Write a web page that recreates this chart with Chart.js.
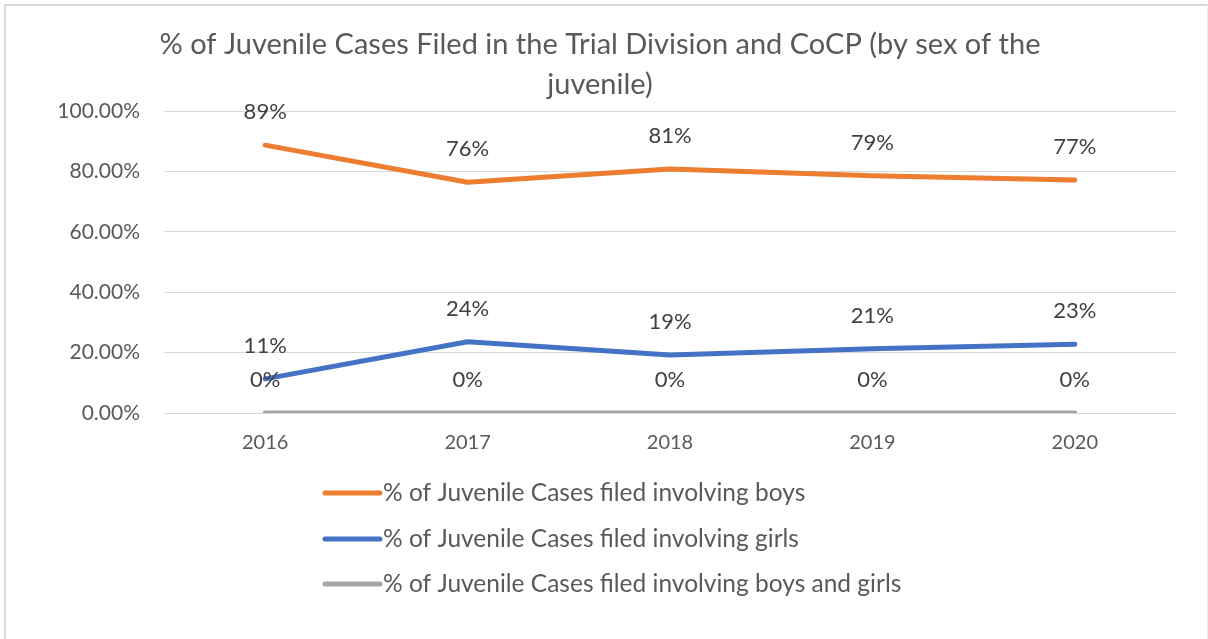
<!DOCTYPE html>
<html>
<head>
<meta charset="utf-8">
<script src="https://cdn.jsdelivr.net/npm/chart.js@4"></script>
<style>
  html, body { margin: 0; padding: 0; background: #fff; }
  #wrap { position: relative; width: 1208px; height: 639px; }
  #frame { position: absolute; left: 4px; top: 4px; width: 1201px; height: 640px;
           border-left: 2px solid #d9d9d9; border-top: 2px solid #d9d9d9; border-right: 1px solid #eeeeee; }
  canvas { position: absolute; left: 0; top: 0; }
</style>
</head>
<body>
<div id="wrap">
  <div id="frame"></div>
  <canvas id="myChart" width="1208" height="639"></canvas>
</div>
<script>
// chart values (percent)
const years = ['2016', '2017', '2018', '2019', '2020'];
const boys = [88.7, 76.4, 80.8, 78.6, 77.2];
const girls = [11.3, 23.6, 19.2, 21.3, 22.8];
const boysAndGirls = [0, 0, 0, 0, 0];
const seriesNames = [
    '% of Juvenile Cases filed involving boys',
    '% of Juvenile Cases filed involving girls',
    '% of Juvenile Cases filed involving boys and girls'
];
const titleLines = ['% of Juvenile Cases Filed in the Trial Division and CoCP (by sex of the', 'juvenile)'];

const FONT = 'Lato, "Open Sans", sans-serif';
const TEXT = '#595959';

// data labels above each point
const pointLabels = {
    id: 'pointLabels',
    afterDatasetsDraw(chart) {
        const ctx = chart.ctx;
        ctx.save();
        ctx.font = '22px ' + FONT;
        ctx.fillStyle = '#404040';
        ctx.textAlign = 'center';
        ctx.textBaseline = 'middle';
        chart.data.datasets.forEach((ds, i) => {
            chart.getDatasetMeta(i).data.forEach((pt, j) => {
                ctx.fillText(Math.round(ds.data[j]) + '%', pt.x, pt.y - 33);
            });
        });
        ctx.restore();
    }
};

// vertical legend under the plot
const sideLegend = {
    id: 'sideLegend',
    afterDraw(chart) {
        const ctx = chart.ctx;
        const x0 = 323, rows = [493, 539, 584];
        ctx.save();
        ctx.font = '24.5px ' + FONT;
        ctx.textBaseline = 'middle';
        chart.data.datasets.forEach((ds, i) => {
            const y = rows[i];
            ctx.strokeStyle = ds.borderColor;
            ctx.lineWidth = 5;
            ctx.lineCap = 'round';
            ctx.beginPath();
            ctx.moveTo(x0 + 2, y);
            ctx.lineTo(x0 + 57, y);
            ctx.stroke();
            ctx.fillStyle = TEXT;
            ctx.fillText(ds.label, x0 + 60, y);
        });
        ctx.restore();
    }
};

const ctx = document.getElementById('myChart').getContext('2d');
const chart = new Chart(ctx, {
    type: 'line',
    data: {
        labels: years,
        datasets: [
            { label: seriesNames[0], data: boys, borderColor: '#ED7D31' },
            { label: seriesNames[1], data: girls, borderColor: '#4472C4' },
            { label: seriesNames[2], data: boysAndGirls, borderColor: '#A5A5A5' }
        ].map(d => Object.assign(d, {
            borderWidth: 5, pointRadius: 0, borderCapStyle: 'round', borderJoinStyle: 'round',
            fill: false, tension: 0
        }))
    },
    options: {
        responsive: false,
        animation: false,
        layout: { padding: { left: 24, right: 32, top: 25, bottom: 166 } },
        plugins: {
            legend: { display: false },
            tooltip: { enabled: false },
            title: {
                display: true,
                text: titleLines,
                color: TEXT,
                font: { family: FONT, size: 29, weight: 'normal', lineHeight: 1.38 },
                padding: { top: 0, bottom: 6 }
            }
        },
        scales: {
            x: {
                offset: true,
                grid: { display: false, drawTicks: false },
                border: { display: false },
                ticks: { color: TEXT, padding: 18, font: { family: FONT, size: 20 } }
            },
            y: {
                min: 0,
                max: 100,
                afterFit(scale) { scale.width = 140; },
                grid: { color: '#d9d9d9', lineWidth: 1, drawTicks: false },
                border: { display: false },
                ticks: {
                    stepSize: 20,
                    padding: 24,
                    color: TEXT,
                    font: { family: FONT, size: 21 },
                    callback: v => v.toFixed(2) + '%'
                }
            }
        }
    },
    plugins: [pointLabels, sideLegend]
});
</script>
</body>
</html>
